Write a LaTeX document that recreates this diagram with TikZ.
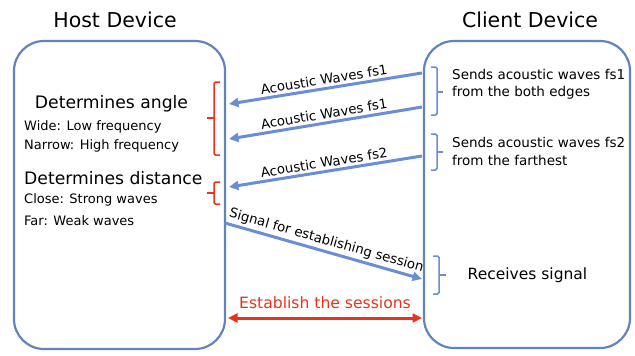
\documentclass[tikz,border=0pt]{standalone}
\usepackage{fontspec}
\setmainfont{DejaVu Sans}
\usetikzlibrary{arrows.meta}
\definecolor{boxblue}{HTML}{6284BE}
\definecolor{arrblue}{HTML}{6A8ED6}
\definecolor{redc}{HTML}{E8321E}
\tikzset{
  devbox/.style={draw=boxblue, line width=2.2pt, rounded corners=30pt, inner sep=0pt},
  title/.style={font=\fontsize{20.5}{24}\selectfont},
  head/.style={font=\fontsize{17.2}{20}\selectfont, inner sep=0pt},
  txt/.style={font=\fontsize{13}{15}\selectfont, inner sep=0pt, anchor=west},
  ctxt/.style={font=\fontsize{13.5}{16}\selectfont, inner sep=0pt, anchor=west},
  wave/.style={draw=arrblue, line width=3pt, -{Triangle[length=9.5pt,width=9pt]}},
  lbl/.style={font=\fontsize{13.3}{15}\selectfont, text=black, sloped, above=1.5pt, inner sep=1pt},
  rbrk/.style={draw=redc, line width=1.5pt, rounded corners=1.5pt},
  bbrk/.style={draw=arrblue, line width=1.5pt, rounded corners=1.5pt},
}
\begin{document}
\begin{tikzpicture}[x=1pt,y=-1pt]
\useasboundingbox (0,0) rectangle (635,356);
\node[devbox, minimum width=211pt, minimum height=308pt] (host) at (119.5,195) {};
\node[devbox, minimum width=206pt, minimum height=307pt] (client) at (527,194.5) {};
\node[title] (ht) at (115,20) {Host Device};
\node[title] (ct) at (530,20) {Client Device};

\node[head] (ang) at (111.5,104) {Determines angle};
\node[txt] (wide) at (24,127) {Wide: Low frequency};
\node[txt] (narrow) at (24,146) {Narrow: High frequency};
\node[head, anchor=west] (dist) at (24,178) {Determines distance};
\node[txt] (close) at (24,200) {Close: Strong waves};
\node[txt] (far) at (24,221) {Far: Weak waves};

\node[ctxt] (s1a) at (452,74) {Sends acoustic waves fs1};
\node[ctxt] (s1b) at (452,93) {from the both edges};
\node[ctxt] (s2a) at (452,142) {Sends acoustic waves fs2};
\node[ctxt] (s2b) at (452,160) {from the farthest};
\node[font=\fontsize{15.5}{18}\selectfont] (recv) at (527.5,275) {Receives signal};

\coordinate (a1s) at (422,73);  \coordinate (a1e) at (229,104);
\coordinate (a2s) at (422,107); \coordinate (a2e) at (229,139);
\coordinate (a3s) at (422,156); \coordinate (a3e) at (229,187);
\coordinate (a4s) at (225,223); \coordinate (a4e) at (422,279);
\coordinate (e1) at (228,318);  \coordinate (e2) at (422,318);

\draw[wave] (a1s) -- node[lbl] {Acoustic Waves fs1} (a1e);
\draw[wave] (a2s) -- node[lbl] {Acoustic Waves fs1} (a2e);
\draw[wave] (a3s) -- node[lbl] {Acoustic Waves fs2} (a3e);
\draw[wave] (a4s) -- node[lbl] {Signal for establishing session} (a4e);
\draw[draw=redc, line width=3pt, {Triangle[length=9.5pt,width=9pt]}-{Triangle[length=9.5pt,width=9pt]}] (e1) -- node[above=4pt, text=redc, font=\fontsize{15.6}{18}\selectfont] (est) {Establish the sessions} (e2);

% red brackets (host side)
\draw[rbrk] (220,82) -- (214,82) -- (214,155) -- (220,155);
\draw[rbrk] (214,118) -- (207,118);
\draw[rbrk] (220,182) -- (214,182) -- (214,204) -- (220,204);
\draw[rbrk] (214,193) -- (207,193);
% blue brackets (client side)
\draw[bbrk] (431,67) -- (437,67) -- (437,115) -- (431,115);
\draw[bbrk] (437,92) -- (443,92);
\draw[bbrk] (431,134) -- (437,134) -- (437,170) -- (431,170);
\draw[bbrk] (437,152) -- (443,152);
\draw[bbrk] (433,256) -- (439,256) -- (439,294) -- (433,294);
\draw[bbrk] (439,275) -- (446,275);
\end{tikzpicture}
\end{document}
